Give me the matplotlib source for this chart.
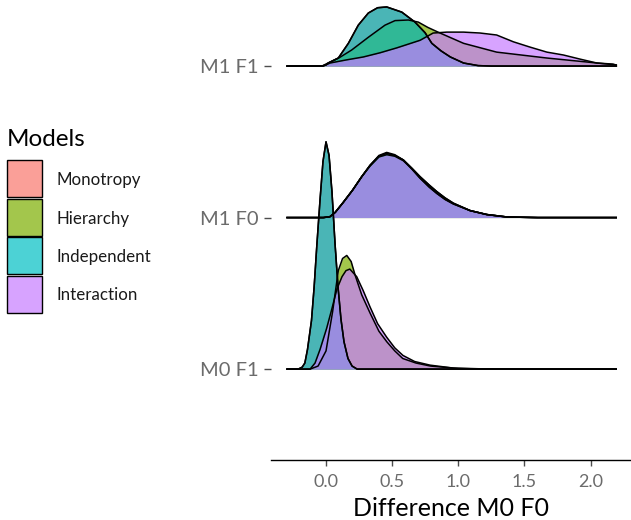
import numpy as np
import matplotlib
matplotlib.use("Agg")
import matplotlib.pyplot as plt
from matplotlib.patches import Rectangle

plt.rcParams['font.family'] = ['Lato', 'DejaVu Sans']

rows = ["M0 F1", "M1 F0", "M1 F1"]
models = ["Monotropy", "Hierarchy", "Independent", "Interaction"]
colors = ["#F8766D", "#7CAE00", "#00BFC4", "#C77CFF"]
x_ticks = [0.0, 0.5, 1.0, 1.5, 2.0]
x_min, x_max = -0.3, 2.2

# ridge heights (1.0 = distance between two rows)
# --- M0 F1
indep_m0f1_x = [-0.21, -0.18, -0.16, -0.14, -0.11, -0.09, -0.07, -0.045, -0.023, 0.0,
                0.023, 0.045, 0.068, 0.091, 0.113, 0.136, 0.166, 0.197, 0.235]
indep_m0f1_h = [0, 0.013, 0.04, 0.13, 0.32, 0.54, 0.81, 1.12, 1.37, 1.50,
                1.41, 1.17, 0.83, 0.54, 0.33, 0.18, 0.07, 0.02, 0]
hier_m0f1_x = [-0.12, -0.06, 0.0, 0.05, 0.093, 0.125, 0.157, 0.19, 0.22, 0.27,
               0.333, 0.40, 0.46, 0.52, 0.58, 0.68, 0.79, 1.0, 1.2]
hier_m0f1_h = [0, 0.02, 0.12, 0.38, 0.65, 0.73, 0.75, 0.71, 0.62, 0.49,
               0.37, 0.25, 0.18, 0.12, 0.07, 0.04, 0.02, 0.004, 0]
inter_m0f1_x = [-0.12, -0.083, -0.045, 0.005, 0.045, 0.083, 0.121, 0.151, 0.18, 0.232,
                0.28, 0.333, 0.39, 0.459, 0.52, 0.582, 0.67, 0.787, 0.96, 1.16, 1.47]
inter_m0f1_h = [0, 0.04, 0.13, 0.27, 0.40, 0.53, 0.61, 0.65, 0.66, 0.61,
                0.52, 0.41, 0.30, 0.21, 0.14, 0.09, 0.05, 0.026, 0.007, 0.002, 0]

# --- M1 F0
m1f0_x = [-0.02, 0.03, 0.07, 0.13, 0.2, 0.27, 0.333, 0.4, 0.459, 0.52, 0.585,
          0.65, 0.711, 0.78, 0.837, 0.9, 0.963, 1.09, 1.216, 1.367, 1.6]
hier_m1f0_h = [0, 0.006, 0.035, 0.1, 0.18, 0.27, 0.345, 0.41, 0.43, 0.415, 0.38,
               0.32, 0.26, 0.205, 0.16, 0.12, 0.09, 0.046, 0.02, 0.004, 0]
indep_m1f0_h = [0, 0.006, 0.035, 0.1, 0.18, 0.27, 0.345, 0.405, 0.425, 0.41, 0.38,
                0.325, 0.27, 0.215, 0.172, 0.13, 0.095, 0.046, 0.02, 0.004, 0]
inter_m1f0_h = [0, 0.006, 0.035, 0.1, 0.18, 0.27, 0.34, 0.40, 0.415, 0.405, 0.375,
                0.32, 0.26, 0.20, 0.16, 0.12, 0.09, 0.046, 0.02, 0.004, 0]

# --- M1 F1
indep_m1f1_x = [-0.03, 0.0, 0.017, 0.093, 0.169, 0.244, 0.32, 0.39, 0.459, 0.573,
                0.673, 0.749, 0.80, 0.87, 0.94, 1.04, 1.15, 1.25]
indep_m1f1_h = [0, 0.008, 0.02, 0.053, 0.15, 0.27, 0.35, 0.385, 0.39, 0.356,
                0.29, 0.22, 0.15, 0.10, 0.06, 0.02, 0.003, 0]
hier_m1f1_x = [-0.03, 0.015, 0.1, 0.194, 0.32, 0.446, 0.522, 0.623, 0.698, 0.77,
               0.862, 1.04, 1.29, 1.67, 2.05, 2.2]
hier_m1f1_h = [0, 0.02, 0.055, 0.106, 0.19, 0.27, 0.30, 0.304, 0.29, 0.255,
               0.218, 0.15, 0.092, 0.053, 0.02, 0.007]
inter_m1f1_x = [-0.02, 0.03, 0.15, 0.282, 0.41, 0.535, 0.711, 0.81, 0.913, 1.04,
                1.165, 1.29, 1.417, 1.543, 1.67, 1.795, 1.92, 2.048, 2.17, 2.2]
inter_m1f1_h = [0, 0.02, 0.04, 0.06, 0.088, 0.12, 0.17, 0.218, 0.224, 0.224,
                0.218, 0.205, 0.16, 0.125, 0.092, 0.073, 0.046, 0.02, 0.013, 0.005]

# Monotropy has the same densities as Independent in every row
ridges = {
    "M0 F1": {"Monotropy": (indep_m0f1_x, indep_m0f1_h),
              "Hierarchy": (hier_m0f1_x, hier_m0f1_h),
              "Independent": (indep_m0f1_x, indep_m0f1_h),
              "Interaction": (inter_m0f1_x, inter_m0f1_h)},
    "M1 F0": {"Monotropy": (m1f0_x, indep_m1f0_h),
              "Hierarchy": (m1f0_x, hier_m1f0_h),
              "Independent": (m1f0_x, indep_m1f0_h),
              "Interaction": (m1f0_x, inter_m1f0_h)},
    "M1 F1": {"Monotropy": (indep_m1f1_x, indep_m1f1_h),
              "Hierarchy": (hier_m1f1_x, hier_m1f1_h),
              "Independent": (indep_m1f1_x, indep_m1f1_h),
              "Interaction": (inter_m1f1_x, inter_m1f1_h)},
}


def pad(x, h):
    """Extend a ridge with zero height out to the common data range."""
    x = list(x)
    h = list(h)
    if x[0] > x_min:
        x = [x_min] + x
        h = [0] + h
    if x[-1] < x_max:
        x = x + [x_max]
        h = h + [0]
    return np.array(x), np.array(h)


W, H = 631, 520
fig = plt.figure(figsize=(W / 100, H / 100), dpi=100)
ax = fig.add_axes([271 / W, 60 / H, 360 / W, 460 / H])

# top row first so lower rows overlap the upper ones
for i in reversed(range(len(rows))):
    base = i + 1
    for m, c in zip(models, colors):
        x, h = pad(*ridges[rows[i]][m])
        ax.fill_between(x, base, base + h, color=c, alpha=0.7, lw=0)
        ax.plot(x, base + h, color='black', lw=1.1, solid_capstyle='butt')

ax.set_xlim(-0.416, 2.306)
ax.set_ylim(0.40, 3.436)
ax.set_xticks(x_ticks)
ax.set_xticklabels([f"{t:.1f}" for t in x_ticks])
ax.set_yticks(range(1, len(rows) + 1))
ax.set_yticklabels(rows)
for side in ['top', 'right', 'left']:
    ax.spines[side].set_visible(False)
ax.spines['bottom'].set_linewidth(1.0)
ax.tick_params(axis='x', length=4, width=1, color='#4D4D4D', labelcolor='#6b6b6b',
               labelsize=13, pad=6)
ax.tick_params(axis='y', length=5, width=1, color='#4D4D4D', labelcolor='#6b6b6b',
               labelsize=14.5, pad=4)
ax.set_xlabel("Difference M0 F0", fontsize=18, labelpad=5)

# legend drawn by hand in pixel positions of the figure
key_left, key_w, key_h, key_top, key_step = 7, 35, 37, 160, 38.5
fig.text(key_left / W, 1 - 146 / H, "Models", fontsize=17.5, ha='left', va='baseline')
for k, (m, c) in enumerate(zip(models, colors)):
    top = key_top + k * key_step
    fig.patches.append(Rectangle((key_left / W, 1 - (top + key_h) / H), key_w / W, key_h / H,
                                 transform=fig.transFigure, facecolor=c, alpha=0.7,
                                 edgecolor='none'))
    fig.patches.append(Rectangle((key_left / W, 1 - (top + key_h) / H), key_w / W, key_h / H,
                                 transform=fig.transFigure, facecolor='none',
                                 edgecolor='black', lw=1.0))
    fig.text(57 / W, 1 - (top + key_h / 2) / H, m, fontsize=12.2, ha='left',
             va='center_baseline', color='#1a1a1a')

fig.savefig("out.png", dpi=100)
